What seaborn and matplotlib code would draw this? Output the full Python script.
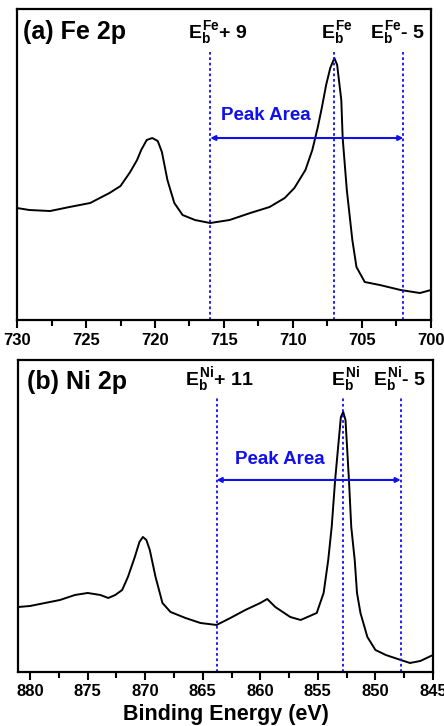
import numpy as np
import pandas as pd
import seaborn as sns
import matplotlib.pyplot as plt
from matplotlib.ticker import MultipleLocator

# Fe 2p spectrum (binding energy in eV, intensity in arbitrary units)
fe_energy = [730.0, 729.1, 727.6, 726.2, 724.7, 724.0, 723.3, 722.5, 721.8, 721.3,
             721.0, 720.6, 720.2, 719.8, 719.5, 719.1, 718.6, 718.0, 717.1, 716.0,
             714.6, 713.1, 711.7, 710.6, 709.9, 709.1, 708.6, 708.2, 707.9, 707.6,
             707.3, 707.0, 706.8, 706.5, 706.4, 706.1, 705.7, 705.4, 704.8, 703.7,
             702.2, 700.8, 700.0]
fe_intensity = [112, 110, 109, 113, 117, 122, 127, 134, 148, 160,
                170, 180, 182, 179, 168, 140, 117, 105, 100, 97,
                100, 107, 113, 122, 132, 150, 170, 193, 213, 235,
                252, 262, 255, 220, 182, 130, 80, 53, 38, 35,
                30, 27, 30]

# Ni 2p spectrum
ni_energy = [881.0, 880.0, 878.7, 877.4, 876.1, 875.0, 873.9, 873.2, 872.6, 872.0,
             871.5, 870.9, 870.5, 870.2, 869.9, 869.6, 869.1, 868.5, 867.8, 866.5,
             865.2, 863.8, 862.6, 861.3, 860.0, 859.4, 858.7, 857.4, 856.5, 855.7,
             855.1, 854.5, 854.1, 853.8, 853.5, 853.2, 853.0, 852.8, 852.6, 852.3,
             852.1, 851.8, 851.6, 851.3, 850.7, 850.0, 849.1, 847.8, 847.0, 846.1,
             845.0]
ni_intensity = [65, 66, 69, 72, 77, 79, 77, 74, 77, 82,
                95, 115, 130, 135, 132, 122, 95, 69, 60, 54,
                49, 47, 54, 62, 69, 73, 65, 55, 52, 56,
                59, 79, 112, 145, 192, 230, 255, 260, 252, 192,
                145, 112, 79, 59, 35, 22, 17, 12, 9, 11,
                17]

fe_lines = [716.0, 707.0, 702.0]
ni_lines = [863.8, 852.8, 847.8]
fe_labels = [r'$E_b^{Fe}$+ 9', r'$E_b^{Fe}$', r'$E_b^{Fe}$- 5']
ni_labels = [r'$E_b^{Ni}$+ 11', r'$E_b^{Ni}$', r'$E_b^{Ni}$- 5']

sns.set_style('ticks')
plt.rcParams['font.family'] = ['Liberation Sans', 'DejaVu Sans']
plt.rcParams['font.weight'] = 'bold'
plt.rcParams['text.color'] = 'black'
plt.rcParams['axes.labelcolor'] = 'black'
plt.rcParams['xtick.color'] = 'black'
plt.rcParams['xtick.labelcolor'] = 'black'
plt.rcParams['mathtext.fontset'] = 'custom'
plt.rcParams['mathtext.rm'] = 'Liberation Sans:bold'
plt.rcParams['mathtext.it'] = 'Liberation Sans:bold'
plt.rcParams['mathtext.bf'] = 'Liberation Sans:bold'
plt.rcParams['mathtext.sf'] = 'Liberation Sans:bold'

BLUE = '#1010ee'

fig = plt.figure(figsize=(4.44, 7.26), dpi=100)
ax1 = fig.add_axes([0.0383, 0.5592, 0.9324, 0.4284])
ax2 = fig.add_axes([0.0405, 0.0744, 0.9347, 0.4298])


def draw_panel(ax, energy, intensity, xlim, ylim, lines, labels, title, title_pos,
               label_pos, area_pos, arrow_y, line_top):
    df = pd.DataFrame({'energy': energy, 'intensity': intensity})
    sns.lineplot(data=df, x='energy', y='intensity', ax=ax, color='black', lw=1.4)
    ax.set_xlim(*xlim)
    ax.set_ylim(*ylim)
    ax.set_yticks([])
    ax.set_ylabel('')
    ax.set_xlabel('')
    ax.xaxis.set_major_locator(MultipleLocator(5))
    ax.xaxis.set_minor_locator(MultipleLocator(2.5))
    ax.tick_params(axis='x', which='major', direction='out', length=6, width=1.5,
                   labelsize=12, pad=3, colors='black')
    ax.tick_params(axis='x', which='minor', direction='out', length=4, width=1.5,
                   colors='black')
    for lab in ax.get_xticklabels():
        lab.set_fontweight('bold')
    for sp in ax.spines.values():
        sp.set_linewidth(1.6)
        sp.set_color('black')

    for xv in lines:
        ax.axvline(xv, ymin=0, ymax=line_top, color=BLUE, ls=(0, (1.5, 1.5)), lw=1.3)

    ax.annotate('', xy=(lines[0], arrow_y), xytext=(lines[2], arrow_y),
                arrowprops=dict(arrowstyle='<|-|>', color=BLUE, lw=1.5,
                                mutation_scale=7, shrinkA=0, shrinkB=0))
    ax.text(area_pos[0], area_pos[1], 'Peak Area', color=BLUE, fontsize=13.5,
            fontweight='bold', ha='center', va='center')

    ax.text(title_pos[0], title_pos[1], title, fontsize=18, fontweight='bold',
            ha='left', va='baseline', color='black')
    for (lx, ly), txt in zip(label_pos, labels):
        ax.text(lx, ly, txt, fontsize=14, fontweight='bold', ha='left',
                va='baseline', color='black')


draw_panel(ax1, fe_energy, fe_intensity, (730, 700), (0, 311), fe_lines, fe_labels,
           '(a) Fe 2p', (729.6, 281),
           [(717.6, 282), (708.0, 282), (704.4, 282)],
           (712.0, 205), 182, 0.862)

draw_panel(ax2, ni_energy, ni_intensity, (881.05, 845), (0, 312), ni_lines, ni_labels,
           '(b) Ni 2p', (880.3, 283),
           [(866.5, 287), (853.9, 287), (850.2, 287)],
           (858.3, 212), 192, 0.88)

ax2.set_xlabel('Binding Energy (eV)', fontsize=15.5, fontweight='bold', labelpad=3)

fig.savefig('out.png', dpi=100)
